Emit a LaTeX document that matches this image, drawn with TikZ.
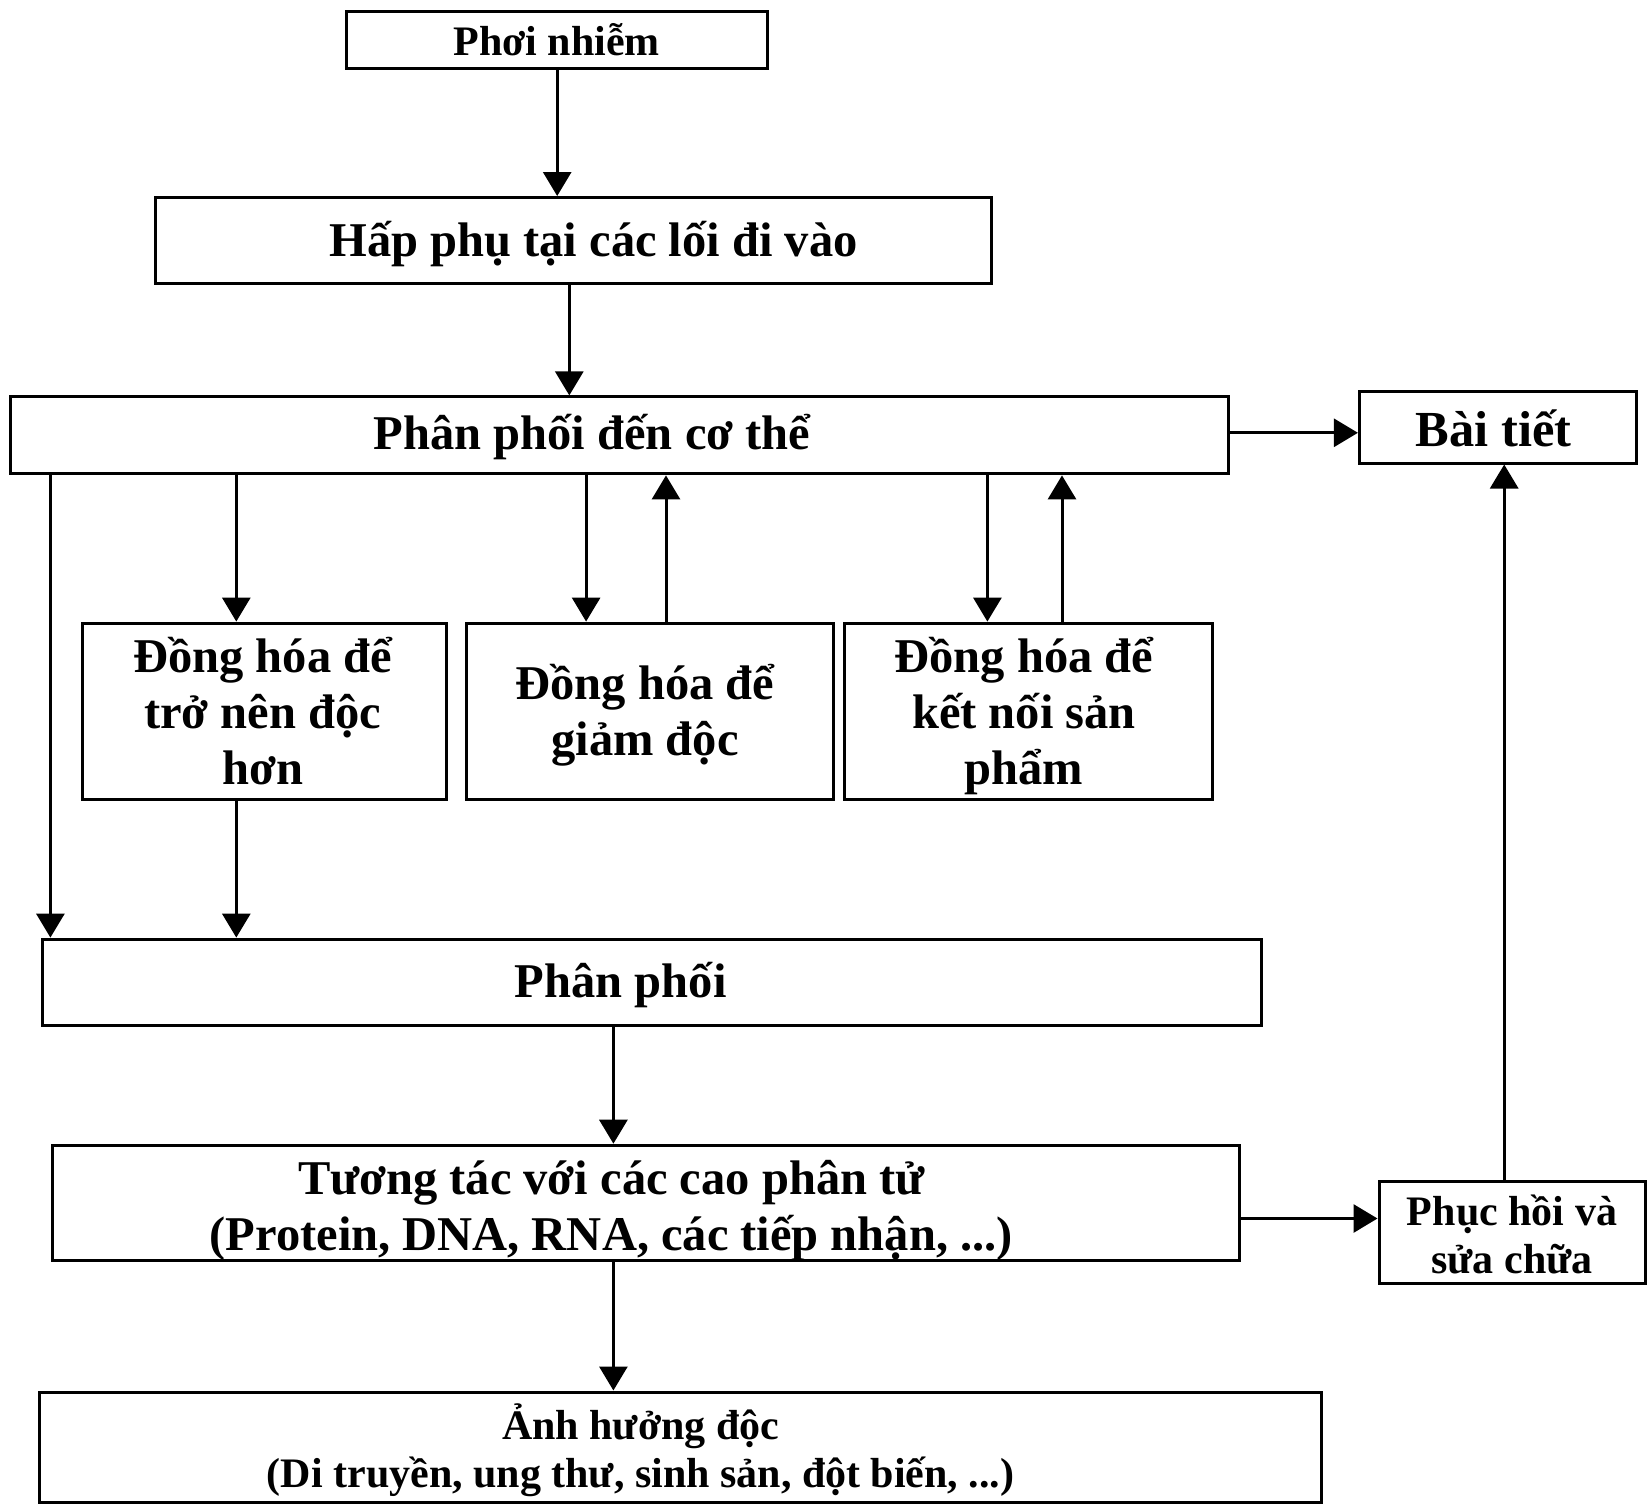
\documentclass[tikz,border=0pt]{standalone}
\usepackage{fontspec}
\setmainfont{Liberation Serif}
\usetikzlibrary{arrows.meta}
\begin{document}
\begin{tikzpicture}[x=1pt,y=-1pt,
  box/.style={draw, line width=3pt, inner sep=0pt},
  txt/.style={inner sep=0pt, align=center, font=\bfseries\fontsize{48.5}{56}\selectfont},
  small/.style={font=\bfseries\fontsize{42}{48}\selectfont},
  conn/.style={line width=3pt, -{Triangle[width=28pt,length=24pt]}}]
\useasboundingbox[fill=white] (0,0) rectangle (1647,1504);

% boxes
\node[box, minimum width=421pt, minimum height=57pt] (P) at (557.2,40) {};
\node[box, minimum width=836pt, minimum height=86pt] (H) at (573.5,240.5) {};
\node[box, minimum width=1218pt, minimum height=77pt] (D) at (619.8,435.4) {};
\node[box, minimum width=277pt, minimum height=72pt] (B) at (1497.9,427) {};
\node[box, minimum width=364pt, minimum height=176pt] (G1) at (264.2,711.1) {};
\node[box, minimum width=367pt, minimum height=176pt] (G2) at (650.2,711.1) {};
\node[box, minimum width=368pt, minimum height=176pt] (G3) at (1028.9,711.1) {};
\node[box, minimum width=1219pt, minimum height=86pt] (PP) at (651.8,982.1) {};
\node[box, minimum width=1187pt, minimum height=115pt] (T) at (646,1202.7) {};
\node[box, minimum width=266pt, minimum height=102pt] (R) at (1512,1232.6) {};
\node[box, minimum width=1282pt, minimum height=110pt] (A) at (680,1447) {};

% texts
\node[txt, small] (Pt) at (556.7,40) {Phơi nhiễm};
\node[txt] (Ht) at (593.5,244.5) {Hấp phụ tại các lối đi vào};
\node[txt] (Dt) at (592,437.5) {Phân phối đến cơ thể};
\node[txt, font=\bfseries\fontsize{50.5}{56}\selectfont] (Bt) at (1493.7,428) {Bài tiết};
\node[txt] (G1t) at (262.6,711.5) {Đồng hóa để\\trở nên độc\\hơn};
\node[txt] (G2t) at (645,715) {Đồng hóa để\\giảm độc};
\node[txt] (G3t) at (1024,716) {Đồng hóa để\\kết nối sản\\phẩm};
\node[txt] (PPt) at (620.8,985) {Phân phối};
\node[txt] (Tt) at (611.3,1210.5) {Tương tác với các cao phân tử\\(Protein, DNA, RNA, các tiếp nhận, ...)};
\node[txt, small] (Rt) at (1512,1234) {Phục hồi và\\sửa chữa};
\node[txt, small] (At) at (640.7,1450) {Ảnh hưởng độc\\(Di truyền, ung thư, sinh sản, đột biến, ...)};

\coordinate (xa) at (569.3,0);
\coordinate (yb) at (0,432.8);
\coordinate (xl) at (50.4,0);
\coordinate (xg) at (236.3,0);
\coordinate (xd) at (586.1,0);
\coordinate (xu) at (666,0);
\coordinate (xe) at (987.4,0);
\coordinate (xv) at (1062,0);
\coordinate (xm) at (613.4,0);
\coordinate (yr) at (0,1218.5);
\coordinate (xr) at (1504.2,0);

\draw[conn] (P.south) -- (P.south |- H.north);
\draw[conn] (xa |- H.south) -- (xa |- D.north);
\draw[conn] (yb -| D.east) -- (yb -| B.west);
\draw[conn] (xl |- D.south) -- (xl |- PP.north);
\draw[conn] (xg |- D.south) -- (xg |- G1.north);
\draw[conn] (xg |- G1.south) -- (xg |- PP.north);
\draw[conn] (xd |- D.south) -- (xd |- G2.north);
\draw[conn] (xu |- G2.north) -- (xu |- D.south);
\draw[conn] (xe |- D.south) -- (xe |- G3.north);
\draw[conn] (xv |- G3.north) -- (xv |- D.south);
\draw[conn] (xm |- PP.south) -- (xm |- T.north);
\draw[conn] (xm |- T.south) -- (xm |- A.north);
\draw[conn] (yr -| T.east) -- (yr -| R.west);
\draw[conn] (xr |- R.north) -- (xr |- B.south);
\end{tikzpicture}
\end{document}
